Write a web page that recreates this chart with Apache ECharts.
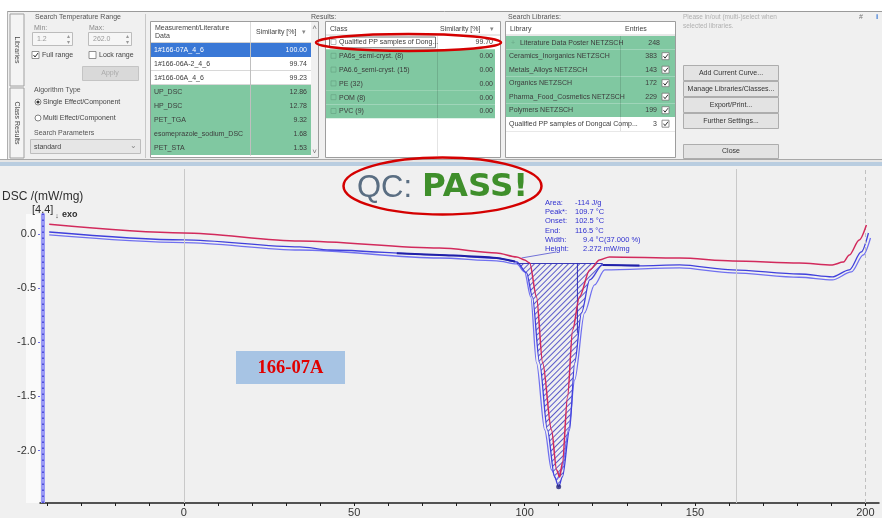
<!DOCTYPE html>
<html><head><meta charset="utf-8">
<script src="https://cdn.jsdelivr.net/npm/echarts@6/dist/echarts.min.js"></script>
<style>html,body{margin:0;padding:0;background:#f0f0f0}#c{width:882px;height:518px}</style>
</head><body><div id="c"></div>
<script>
// ---- chart data ----
const xTicks = [0, 50, 100, 150, 200];
const xMinorTicks = [-40,-30,-20,-10,0,10,20,30,40,50,60,70,80,90,100,110,120,130,140,150,160,170,180,190,200];
const yTicks = [0, -0.5, -1.0, -1.5, -2.0];

const redX = [-39.5, 0, 34, 75, 91.8, 97.7, 100, 101.5, 103.5, 105.3, 107.9, 109.4, 110.3, 111.1, 112.6, 114.1, 116.1, 119.1, 122, 124.9, 145.5, 161, 180.6, 190.3, 193.5, 195.3, 198.2, 200.3];
const redY = [0.09, 0.01, -0.065, -0.13, -0.175, -0.212, -0.24, -0.268, -0.582, -1.19, -1.81, -2.18, -2.244, -2.114, -1.505, -0.886, -0.582, -0.332, -0.24, -0.212, -0.222, -0.249, -0.268, -0.286, -0.26, -0.194, -0.055, 0.083];

const blue1X = [-39.5, 0, 34, 42.8, 75, 91.8, 97.7, 100.6, 102.3, 104.4, 106.7, 108.8, 110, 111.1, 113.2, 114.7, 116.7, 119.1, 122.9, 133.7, 145.5, 161, 180.6, 190.3, 195.3, 198.8, 200.9];
const blue1Y = [0.018, -0.055, -0.12, -0.148, -0.194, -0.222, -0.259, -0.36, -0.582, -1.191, -1.81, -2.244, -2.336, -2.244, -1.81, -1.191, -0.729, -0.425, -0.286, -0.295, -0.286, -0.332, -0.37, -0.397, -0.332, -0.166, 0.009];

const blue2X = [-39.5, 0, 34, 75, 91.8, 97.7, 100, 101.8, 103.5, 105.9, 107.9, 109.4, 110.9, 112.9, 114.7, 117.6, 120.5, 123.5, 145.5, 161, 180.6, 190.3, 195.9, 199.4, 201.5];
const blue2Y = [-0.009, -0.08, -0.148, -0.222, -0.249, -0.277, -0.351, -0.582, -1.191, -1.81, -2.179, -2.271, -2.179, -1.81, -1.348, -0.729, -0.471, -0.332, -0.314, -0.36, -0.40, -0.425, -0.351, -0.194, -0.037];

const peakRange = [97.7, 122.9];
const peakBaseline = -0.27;
const peakPoint = [110, -2.336];
const endLineX = [115.5, 115.5];
const endLineY = [-0.268, -0.914];
const heightLineX = [99.1, 109.4];
const heightLineY = [-0.222, -0.166];
const limitLeftX = [62.5, 75, 91.8, 97.2];
const limitLeftY = [-0.178, -0.194, -0.222, -0.255];
const limitRightX = [122.9, 133.7];
const limitRightY = [-0.286, -0.292];
const gridLinesX = [0, 162];
const dashedLineX = [200];
const cursorX = -41.3;
const cursorY = [0.19, -2.485];

const annLabels = ['Area:', 'Peak*:', 'Onset:', 'End:', 'Width:', 'Height:'];
const annValues = ['-114 J/g', '109.7 \u00B0C', '102.5 \u00B0C', '116.5 \u00B0C', '9.4 \u00B0C(37.000 %)', '2.272 mW/mg'];

const measNames = ['1#166-07A_4_6', '1#166-06A-2_4_6', '1#166-06A_4_6', 'UP_DSC', 'HP_DSC', 'PET_TGA', 'esomeprazole_sodium_DSC', 'PET_STA'];
const measSim = ['100.00', '99.74', '99.23', '12.86', '12.78', '9.32', '1.68', '1.53'];
const classNames = ['Qualified PP samples of Dong...', 'PA6s_semi-cryst. (8)', 'PA6.6_semi-cryst. (15)', 'PE (32)', 'POM (8)', 'PVC (9)'];
const classSim = ['99.70', '0.00', '0.00', '0.00', '0.00', '0.00'];
const libNames = ['Literature Data Poster NETZSCH', 'Ceramics_Inorganics NETZSCH', 'Metals_Alloys NETZSCH', 'Organics NETZSCH', 'Pharma_Food_Cosmetics NETZSCH', 'Polymers NETZSCH', 'Qualified PP samples of Dongcai Comp...'];
const libEntries = ['248', '383', '143', '172', '229', '199', '3'];
const buttonLabels = ['Add Current Curve...', 'Manage Libraries/Classes...', 'Export/Print...', 'Further Settings...'];

function pairs(xs, ys) { return xs.map((x, i) => [x, ys[i]]); }
const hatchData = pairs(blue1X, blue1Y).filter(p => p[0] >= peakRange[0] && p[0] <= peakRange[1]);

// ---- UI drawing helpers ----
const G = [];
const UIF = '"Liberation Sans", Arial, sans-serif';
function R(x, y, w, h, fill, stroke, lw, z) { G.push({type:'rect', shape:{x:x, y:y, width:w, height:h}, style:{fill:fill || 'none', stroke:stroke || null, lineWidth:lw || 1}, silent:true, z:(z === undefined ? 1 : z)}); }
function T(x, y, s, o) { o = o || {}; G.push({type:'text', x:x, y:y, rotation:o.rot || 0, silent:true, z:o.z || 5,
  style:{text:s, fill:o.c || '#454545', font:(o.w || 'normal') + ' ' + (o.s || 7) + 'px ' + (o.f || UIF), align:o.a || 'left', textAlign:o.a || 'left', verticalAlign:'middle', textVerticalAlign:'middle'}}); }
function L(x1, y1, x2, y2, c, lw, dash, z) { G.push({type:'line', shape:{x1:x1, y1:y1, x2:x2, y2:y2}, style:{stroke:c, lineWidth:lw || 1, lineDash:dash || null}, silent:true, z:z || 2}); }
function CHK(x, y, checked) { R(x, y, 7, 7, '#fff', '#777', 0.8, 3); if (checked) G.push({type:'polyline', shape:{points:[[x+1.5, y+3.5], [x+3, y+5.5], [x+6, y+1.5]]}, style:{stroke:'#333', lineWidth:1, fill:'none'}, silent:true, z:4}); }

// frame
R(0, 0, 882, 11, '#ffffff');
R(0, 0, 7, 160, '#ffffff');
L(7, 11.5, 882, 11.5, '#9a9a9a', 1);
L(7.5, 11, 7.5, 160, '#b0b0b0', 1);
// left tabs
R(10, 14, 14, 72, '#f4f4f4', '#a0a0a0', 1);
R(10, 88, 14, 70, '#f4f4f4', '#a0a0a0', 1);
T(17, 50, 'Libraries', {rot:-Math.PI / 2, a:'center', s:7});
T(17, 123, 'Class Results', {rot:-Math.PI / 2, a:'center', s:7});
L(145.5, 14, 145.5, 158, '#c8c8c8', 1);

// panel 1
T(35, 17, 'Search Temperature Range', {c:'#555'});
T(34, 28, 'Min:', {c:'#8a8a8a'});
T(89, 28, 'Max:', {c:'#8a8a8a'});
R(32.5, 32.5, 40, 13, '#f6f6f6', '#bcbcbc', 1);
T(37, 39, '1.2', {c:'#9a9a9a'});
T(68, 36, '\u25B4', {c:'#999', s:6, a:'center'}); T(68, 42, '\u25BE', {c:'#999', s:6, a:'center'});
R(88.5, 32.5, 43, 13, '#f6f6f6', '#bcbcbc', 1);
T(93, 39, '262.0', {c:'#9a9a9a'});
T(127, 36, '\u25B4', {c:'#999', s:6, a:'center'}); T(127, 42, '\u25BE', {c:'#999', s:6, a:'center'});
CHK(32, 51.5, true); T(42, 55, 'Full range', {c:'#444'});
CHK(89, 51.5, false); T(99, 55, 'Lock range', {c:'#444'});
R(82.5, 66.5, 56, 14, '#d9d9d9', '#c4c4c4', 1);
T(110, 73.5, 'Apply', {c:'#ababab', a:'center'});
T(34, 90, 'Algorithm Type', {c:'#555'});
G.push({type:'circle', shape:{cx:38, cy:102, r:3}, style:{fill:'#fff', stroke:'#666', lineWidth:0.8}, silent:true, z:3});
G.push({type:'circle', shape:{cx:38, cy:102, r:1.6}, style:{fill:'#333'}, silent:true, z:4});
T(43, 102, 'Single Effect/Component', {c:'#444'});
G.push({type:'circle', shape:{cx:38, cy:118, r:3}, style:{fill:'#fff', stroke:'#666', lineWidth:0.8}, silent:true, z:3});
T(43, 118, 'Multi Effect/Component', {c:'#444'});
T(34, 133, 'Search Parameters', {c:'#555'});
R(30.5, 139.5, 110, 14, '#e6e6e6', '#bdbdbd', 1);
T(34, 147, 'standard', {c:'#444'});
T(133, 146, '\u2304', {c:'#888', s:8, a:'center'});

// group labels
T(311, 17, 'Results:', {c:'#555'});
T(508, 17, 'Search Libraries:', {c:'#555'});

// table 1 : measurements
R(150.5, 21.5, 168, 136, '#ffffff', '#9d9d9d', 1);
T(155, 28, 'Measurement/Literature', {c:'#444'});
T(155, 36, 'Data', {c:'#444'});
T(256, 32, 'Similarity [%]', {c:'#444'});
T(304, 32, '\u25BE', {c:'#888', s:7, a:'center'});
L(250.5, 22, 250.5, 156, '#dadada', 1, null, 3);
L(151, 42.5, 311, 42.5, '#d0d0d0', 1, null, 3);
R(311, 22, 7, 135, '#f0f0f0', null, 1, 2);
T(314.5, 28, '\u02C4', {c:'#777', s:8, a:'center', z:6});
T(314.5, 152, '\u02C5', {c:'#777', s:8, a:'center', z:6});
measNames.forEach((n, i) => {
  const y = 43 + i * 14;
  const fill = i === 0 ? '#3a78d6' : (i < 3 ? '#ffffff' : '#80c8a1');
  R(151, y, 160, 14, fill, null, 1, 2);
  if (i > 0 && i < 3) L(151, y + 13.5, 311, y + 13.5, '#d8d8d8', 1, null, 3);
  const c = i === 0 ? '#ffffff' : '#3c3c3c';
  T(154, y + 7, n, {c:c});
  T(307, y + 7, measSim[i], {c:c, a:'right'});
});
L(250.5, 43, 250.5, 155, 'rgba(0,0,0,0.12)', 1, null, 3);

// table 2 : classes
R(325.5, 21.5, 175, 136, '#ffffff', '#9d9d9d', 1);
T(330, 29, 'Class', {c:'#444'});
T(440, 29, 'Similarity [%]', {c:'#444'});
T(492, 29, '\u25BE', {c:'#888', s:7, a:'center'});
L(326, 35, 500, 35, '#d0d0d0', 1, null, 3);
classNames.forEach((n, i) => {
  const y = 35.5 + i * 13.8;
  R(326, y, 169, 13.8, i === 0 ? '#ffffff' : '#80c8a1', null, 1, 2);
  if (i === 0) R(329.5, y + 1.5, 106, 10.8, 'none', '#555', 0.8, 3);
  R(331, y + 4, 5, 5, 'none', i === 0 ? '#aaa' : '#6aa888', 0.8, 3);
  T(339, y + 7, n, {c:'#3c3c3c'});
  T(493, y + 7, classSim[i], {c:'#3c3c3c', a:'right'});
});
L(437.5, 36, 437.5, 118, 'rgba(0,0,0,0.12)', 1, null, 3);
L(437.5, 118, 437.5, 156, '#e4e4e4', 1, null, 3);

// table 3 : libraries
R(505.5, 21.5, 170, 136, '#ffffff', '#9d9d9d', 1);
T(510, 29, 'Library', {c:'#444'});
T(625, 29, 'Entries', {c:'#444'});
L(506, 35, 675, 35, '#d0d0d0', 1, null, 3);
libNames.forEach((n, i) => {
  const y = 36 + i * 13.5;
  const green = i < 6;
  R(506, y, 169, 13.5, green ? '#80c8a1' : '#ffffff', null, 1, 2);
  T(i === 0 ? 520 : 509, y + 7, n, {c:'#3c3c3c'});
  if (i === 0) T(513, y + 7, '+', {c:'#6aa888', s:7, a:'center'});
  T(i === 0 ? 660 : 657, y + 7, libEntries[i], {c:'#3c3c3c', a:'right'});
  if (i > 0) CHK(662, y + 3.2, true);
});
L(620.5, 36, 620.5, 117, 'rgba(0,0,0,0.12)', 1, null, 3);
L(620.5, 117, 620.5, 131, '#e0e0e0', 1, null, 3);
L(506, 131.5, 675, 131.5, '#e8e8e8', 1, null, 3);

// right panel
T(683, 17, 'Please in/out (multi-)select when', {c:'#b0b0b0', s:6.5});
T(683, 26, 'selected libraries.', {c:'#b0b0b0', s:6.5});
buttonLabels.forEach((b, i) => {
  const y = [65.5, 81.5, 97.5, 113.5][i];
  R(683.5, y, 95, 15, '#e3e3e3', '#adadad', 1);
  T(731, y + 7.5, b, {c:'#333', a:'center'});
});
R(683.5, 144.5, 95, 14, '#e3e3e3', '#adadad', 1);
T(731, 151.5, 'Close', {c:'#333', a:'center'});
T(861, 17, '#', {c:'#777', s:7, a:'center'});
T(877, 17, 'i', {c:'#3a78d6', s:8, w:'bold', a:'center'});

// separator between UI and plot
L(0, 159.5, 882, 159.5, '#a8a8a8', 1);
R(0, 160, 882, 2, '#e6e6e6');
R(0, 162, 882, 4, '#b9cde0');
// light strip at the left of the plot (behind axis labels)
R(26, 214, 15, 289, '#fafafa', null, 1, -10);

// plot texts
T(2, 197, 'DSC /(mW/mg)', {c:'#2e2e2e', s:12, z:20});
T(32, 210, '[4.4]', {c:'#2e2e2e', s:11, z:20});
T(57, 216, '\u2193', {c:'#2e2e2e', s:7, a:'center', z:20});
T(62, 215, 'exo', {c:'#2e2e2e', s:9, w:'bold', z:20});
T(357, 188, 'QC:', {c:'#5a6e82', s:31, z:20});
T(422, 188, 'PASS!', {c:'#3f8f2b', s:32.5, w:'bold', f:'"DejaVu Sans", sans-serif', z:20});
G.push({type:'ellipse', shape:{cx:442.5, cy:186, rx:99, ry:28.5}, style:{fill:'none', stroke:'#d40000', lineWidth:2.5}, silent:true, z:30});
G.push({type:'ellipse', shape:{cx:408.5, cy:42.5, rx:92.5, ry:8.5}, style:{fill:'none', stroke:'#d40000', lineWidth:2.5}, silent:true, z:30});
annLabels.forEach((l, i) => {
  const y = 203 + i * 9.2;
  T(545, y, l, {c:'#3131d0', s:7.5, z:20});
  T(i >= 4 ? 583 : 575, y, annValues[i], {c:'#3131d0', s:7.5, z:20});
});
R(236, 351, 109, 33, '#a7c4e4', null, 1, 20);
T(290.5, 368, '166-07A', {c:'#e00000', s:18.5, w:'bold', f:'"Liberation Serif", "Times New Roman", serif', a:'center', z:21});

const chart = echarts.init(document.getElementById('c'), null, {renderer:'canvas'});
chart.setOption({
  backgroundColor:'#f0f0f0',
  animation:false,
  grid:{left:40, right:3, top:169, bottom:15, show:true, backgroundColor:'#f0f0f0', borderWidth:0},
  xAxis:{type:'value', min:-42.2, max:204,
    axisLine:{onZero:false, lineStyle:{color:'#1e1e1e', width:1.5}},
    axisTick:{customValues:xMinorTicks, length:3, lineStyle:{color:'#1e1e1e'}},
    axisLabel:{customValues:xTicks, fontSize:11, color:'#333', margin:4, fontFamily:'"Liberation Sans", Arial, sans-serif'},
    splitLine:{show:false}},
  yAxis:{type:'value', min:-2.485, max:0.6,
    axisLine:{show:false, onZero:false},
    axisTick:{show:true, customValues:yTicks, length:2, lineStyle:{color:'#6a6ae0'}},
    axisLabel:{customValues:yTicks, fontSize:11, color:'#333', margin:4, fontFamily:'"Liberation Sans", Arial, sans-serif', formatter:v => v.toFixed(1)},
    splitLine:{show:false}},
  graphic:G,
  series:[
    {type:'line', name:'hatch', data:hatchData, smooth:0.3, smoothMonotone:'x', symbol:'none',
      lineStyle:{width:0, color:'#3030c0', decal:{symbol:'rect', symbolSize:1, dashArrayX:[1, 0], dashArrayY:[1, 3], rotation:-Math.PI / 4, color:'rgba(40,40,190,0.75)'}},
      itemStyle:{color:'#3030c0', decal:{symbol:'rect', symbolSize:1, dashArrayX:[1, 0], dashArrayY:[1, 3], rotation:-Math.PI / 4, color:'rgba(40,40,190,0.75)'}},
      areaStyle:{origin:peakBaseline, color:'rgba(0,0,0,0)', opacity:1}, z:2, silent:true,
      markLine:{silent:true, symbol:'none', label:{show:false},
        data:[[{coord:[peakRange[0], peakBaseline]}, {coord:[peakRange[1], peakBaseline]}]],
        lineStyle:{color:'#3a3ab8', width:1, type:'solid'}}},
    {type:'line', name:'blue2', data:pairs(blue2X, blue2Y), smooth:0.3, smoothMonotone:'x', symbol:'none',
      lineStyle:{color:'#7070f0', width:1.3}, z:3, silent:true,
      markLine:{silent:true, symbol:'none', label:{show:false},
        data:gridLinesX.map(v => ({xAxis:v, lineStyle:{color:'#c9c9c9', width:1, type:'solid'}}))
          .concat(dashedLineX.map(v => ({xAxis:v, lineStyle:{color:'#c0c0c0', width:1, type:[4, 3]}})))
          .concat([[{coord:[cursorX, cursorY[0]], lineStyle:{color:'#9a9af6', width:4, type:'solid'}}, {coord:[cursorX, cursorY[1]]}]])
          .concat([[{coord:[cursorX, cursorY[0]], lineStyle:{color:'#5050d8', width:2, type:[1.5, 4.5]}}, {coord:[cursorX, cursorY[1]]}]])}},
    {type:'line', name:'blue1', data:pairs(blue1X, blue1Y), smooth:0.3, smoothMonotone:'x', symbol:'none',
      lineStyle:{color:'#4040dc', width:1.3}, z:4, silent:true},
    {type:'line', name:'limitL', data:pairs(limitLeftX, limitLeftY), smooth:0.3, symbol:'none',
      lineStyle:{color:'#2020a8', width:2}, z:5, silent:true},
    {type:'line', name:'limitR', data:pairs(limitRightX, limitRightY), symbol:'none',
      lineStyle:{color:'#2020a8', width:2}, z:5, silent:true},
    {type:'line', name:'end', data:pairs(endLineX, endLineY), symbol:'none',
      lineStyle:{color:'#3030b8', width:1}, z:5, silent:true},
    {type:'line', name:'height', data:pairs(heightLineX, heightLineY), symbol:'none',
      lineStyle:{color:'#5050d0', width:0.8}, z:5, silent:true},
    {type:'line', name:'red', data:pairs(redX, redY), smooth:0.3, smoothMonotone:'x', symbol:'none',
      lineStyle:{color:'#d22a5c', width:1.5}, z:6, silent:true},
    {type:'scatter', name:'peak', data:[peakPoint], symbolSize:5, itemStyle:{color:'#22227a'}, z:7, silent:true}
  ]
});
</script></body></html>
